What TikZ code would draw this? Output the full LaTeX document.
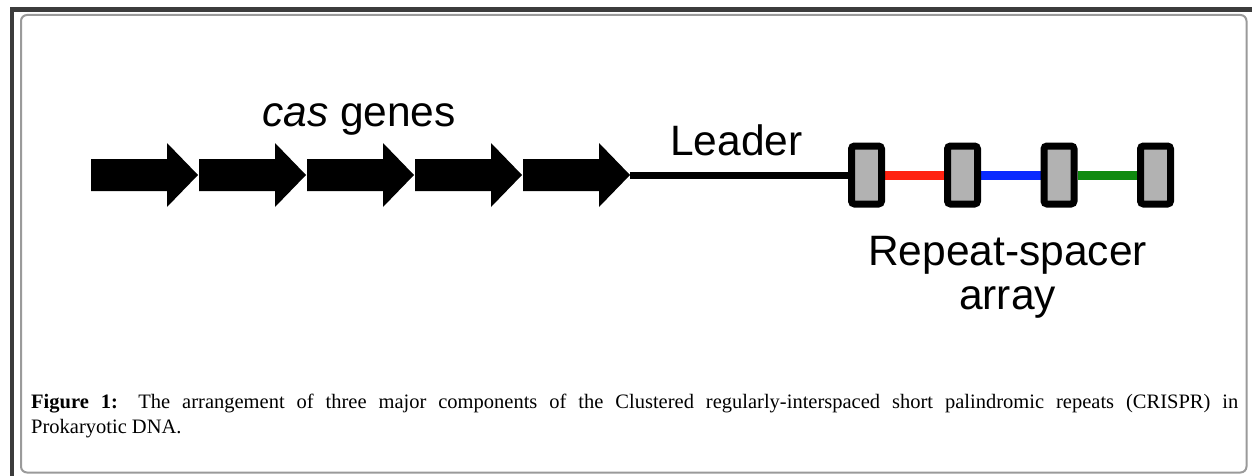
\documentclass[tikz,border=0pt]{standalone}
\usepackage{fontspec}
\setmainfont{Liberation Serif}
\newfontfamily\arialfont{Liberation Sans}
\usetikzlibrary{backgrounds}
\definecolor{framedark}{HTML}{3C3C3C}
\definecolor{framegray}{HTML}{9A9A9A}
\definecolor{repgray}{HTML}{B2B2B2}
\definecolor{spred}{HTML}{FF2211}
\definecolor{spblue}{HTML}{0A2AFF}
\definecolor{spgreen}{HTML}{108A10}
\tikzset{
  label/.style={font=\arialfont\fontsize{42.5}{44}\selectfont, inner sep=0pt},
  repeatbox/.style={draw=black, line width=7pt, fill=repgray, rounded corners=3pt,
    minimum width=30pt, minimum height=58pt, inner sep=0pt},
  spacer/.style={line width=9pt},
  leaderline/.style={line width=7pt, black},
  genearrow/.style={fill=black}
}
\begin{document}
\begin{tikzpicture}[x=1pt,y=-1pt]
\useasboundingbox (0,0) rectangle (1252,476);
% outer dark frame
\fill[framedark] (10,7) rectangle (1252,12);
\fill[framedark] (10,7) rectangle (14,476);
% inner rounded frame
\draw[framegray, line width=2pt, rounded corners=6pt] (21,15) rectangle (1246.5,472.5);
% cas gene arrows
\foreach \i in {0,...,4}{
  \pgfmathsetmacro\s{91+108*\i}
  \fill[genearrow] (\s,159) -- (\s+76,159) -- (\s+76,143) -- (\s+107,175)
     -- (\s+76,207) -- (\s+76,191) -- (\s,191) -- cycle;
  \coordinate (tip\i) at (\s+107,175);
}
% repeat boxes
\node[repeatbox] (b1) at (866.5,175) {};
\node[repeatbox] (b2) at (962.5,175) {};
\node[repeatbox] (b3) at (1059,175) {};
\node[repeatbox] (b4) at (1155.5,175) {};
\begin{pgfonlayer}{background}
  \draw[leaderline] (tip4) -- (b1.west);
  \draw[spacer, spred] (b1.east) -- (b2.west);
  \draw[spacer, spblue] (b2.east) -- (b3.west);
  \draw[spacer, spgreen] (b3.east) -- (b4.west);
\end{pgfonlayer}
% labels
\node[label, anchor=base] (cas) at (359,127) {\textit{cas} genes};
\node[label, anchor=base] (leader) at (736.5,155) {Leader};
\node[label, anchor=north, align=center] (rsa) at (1007.5,236.5) {Repeat-spacer\\array};
% caption
\node[anchor=north west, inner sep=0pt, text width=1207pt, align=justify,
      font=\fontsize{20.5}{24.5}\selectfont] (cap) at (31,394)
  {\tolerance=10000\hyphenpenalty=10000\textbf{Figure 1:} The arrangement of three major components of the Clustered regularly-interspaced short palindromic repeats (CRISPR) in\linebreak Prokaryotic DNA.};
\end{tikzpicture}
\end{document}
